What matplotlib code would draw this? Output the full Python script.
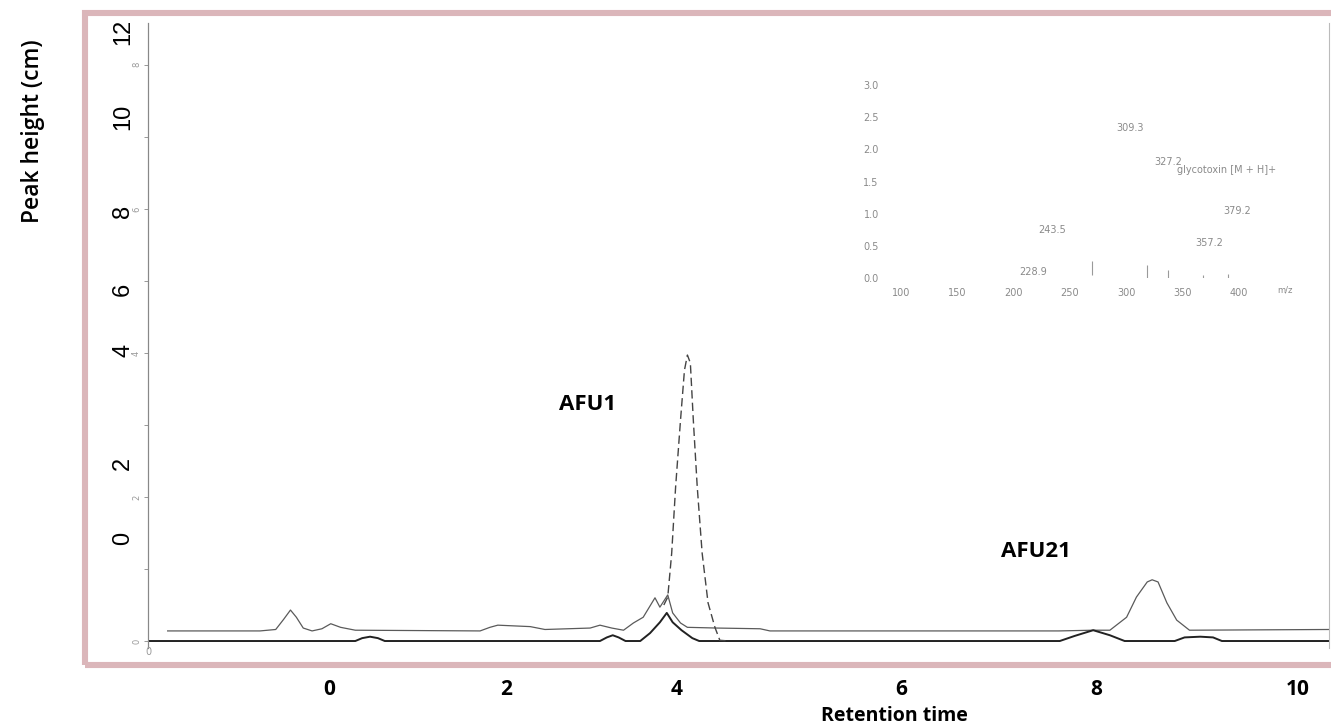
import matplotlib.pyplot as plt
from matplotlib.patches import Rectangle

# upper trace (thin grey), retention time vs peak height
upper_t = [-1.47, -0.53, -0.37, -0.29, -0.22, -0.16, -0.09, 0.0, 0.10, 0.19, 0.29, 0.44,
           1.71, 1.81, 1.89, 2.22, 2.37, 2.83, 2.93, 3.05, 3.17, 3.27, 3.37, 3.49, 3.54,
           3.62, 3.67, 3.75, 3.82, 4.12, 4.56, 4.66, 7.60, 7.95, 8.12, 8.29, 8.39, 8.50,
           8.55, 8.61, 8.70, 8.80, 8.93, 10.35]
upper_h = [0.14, 0.14, 0.16, 0.30, 0.43, 0.33, 0.18, 0.14, 0.17, 0.24, 0.19, 0.15,
           0.14, 0.19, 0.22, 0.20, 0.16, 0.18, 0.22, 0.18, 0.15, 0.25, 0.33, 0.60, 0.47,
           0.64, 0.39, 0.25, 0.19, 0.18, 0.17, 0.14, 0.14, 0.15, 0.15, 0.33, 0.61, 0.82,
           0.85, 0.82, 0.53, 0.29, 0.15, 0.16]

# lower trace (dark baseline)
lower_t = [-1.67, 0.44, 0.51, 0.59, 0.67, 0.74, 2.93, 3.00, 3.06, 3.12, 3.19, 3.34,
           3.44, 3.54, 3.61, 3.67, 3.76, 3.87, 3.94, 7.61, 7.76, 7.95, 8.12, 8.27,
           8.78, 8.88, 9.04, 9.17, 9.26, 10.35]
lower_h = [0.0, 0.0, 0.04, 0.06, 0.04, 0.0, 0.0, 0.05, 0.08, 0.05, 0.0, 0.0,
           0.11, 0.26, 0.39, 0.26, 0.15, 0.04, 0.0, 0.0, 0.07, 0.15, 0.08, 0.0,
           0.0, 0.05, 0.06, 0.05, 0.0, 0.0]

# dashed AFU1 trace
dash_t = [3.58, 3.62, 3.66, 3.70, 3.75, 3.79, 3.82, 3.85, 3.88, 3.92, 3.97, 4.03, 4.10, 4.15, 4.25]
dash_h = [0.50, 0.61, 1.22, 2.14, 3.07, 3.76, 3.97, 3.86, 3.07, 2.14, 1.22, 0.53, 0.19, 0.01, 0.0]

# outer (overlaid) tick labels
xtick_pos = [0.17, 1.97, 3.71, 6.0, 7.98, 10.03]
xtick_labels = ['0', '2', '4', '6', '8', '10']
ytick_pos = [8.46, 7.28, 5.96, 4.88, 4.04, 2.47, 1.42]
ytick_labels = ['12', '10', '8', '6', '4', '2', '0']

# inner chromatogram scale
inner_ticks = [0, 1, 2, 3, 4, 5, 6, 7, 8]
inner_labels = ['0', '', '2', '', '4', '', '6', '', '8']

# mass spectrum inset
ms_xticks = [100, 150, 200, 250, 300, 350, 400]
ms_yticks = [0.0, 0.5, 1.0, 1.5, 2.0, 2.5, 3.0]
ms_peak_mz = [269.5, 318, 337, 368, 390]
ms_peak_lo = [0.05, 0.0, 0.0, 0.0, 0.0]
ms_peak_hi = [0.27, 0.2, 0.12, 0.04, 0.06]
ms_notes = ['309.3', '327.2', 'glycotoxin [M + H]+', '379.2', '357.2', '243.5', '228.9']
ms_note_x = [303, 337, 345, 398, 374, 234, 217]
ms_note_y = [2.33, 1.80, 1.68, 1.04, 0.54, 0.75, 0.09]

W, H = 1331, 725
fig = plt.figure(figsize=(W / 100, H / 100), dpi=100)

# pink frame
fig.patches.append(Rectangle((85 / W, 1 - 665 / H), (1345 - 85) / W, (665 - 13) / H,
                             transform=fig.transFigure, fill=False,
                             edgecolor='#dbb6ba', linewidth=4.4))

ax = fig.add_axes([148 / W, 1 - 648 / H, (1329 - 148) / W, (648 - 23) / H])
ax.set_facecolor('none')
ax.plot(upper_t, upper_h, color='#5a5a5a', lw=0.9)
ax.plot(lower_t, lower_h, color='#222222', lw=1.4)
ax.plot(dash_t, dash_h, color='#444444', lw=1.0, dashes=(6, 3))
ax.set_xlim(-1.67, 10.35)
ax.set_ylim(-0.097, 8.58)

for s in ['top', 'bottom']:
    ax.spines[s].set_visible(False)
ax.spines['left'].set_color('#888888')
ax.spines['left'].set_linewidth(0.8)
ax.spines['right'].set_color('#bbbbbb')
ax.spines['right'].set_linewidth(0.8)

ax.set_xticks(xtick_pos)
ax.set_xticklabels(xtick_labels, fontfamily='Open Sans', fontweight='bold', fontsize=15)
ax.tick_params(axis='x', length=0, pad=22)
ax.set_yticks(ytick_pos)
ax.set_yticklabels(ytick_labels, fontfamily='Liberation Sans', fontsize=17,
                   rotation=90, va='center')
ax.tick_params(axis='y', length=0, pad=10)

sec = ax.secondary_yaxis('left')
sec.set_yticks(inner_ticks)
sec.set_yticklabels(inner_labels, fontsize=6, color='#999999', rotation=90, va='center')
sec.tick_params(length=3, width=0.6, color='#888888', pad=2)
sec.spines['left'].set_color('#888888')
sec.spines['left'].set_linewidth(0.8)
ax.annotate('0', xy=(-1.67, 0), xytext=(0, -4), textcoords='offset points',
            ha='center', va='top', fontsize=7, color='#999999')

ax.text(2.80, 3.29, 'AFU1', fontfamily='Open Sans', fontweight='bold', fontsize=16,
        ha='center', va='center')
ax.text(7.37, 1.24, 'AFU21', fontfamily='Open Sans', fontweight='bold', fontsize=16,
        ha='center', va='center')

fig.text(33 / W, 1 - 131 / H, 'Peak height (cm)', rotation=90, ha='center', va='center',
         fontfamily='Open Sans', fontweight='semibold', fontsize=16.5)
fig.text(894 / W, 1 - 716 / H, 'Retention time', ha='center', va='center',
         fontfamily='Open Sans', fontweight='bold', fontsize=14)

# inset mass spectrum
ins = fig.add_axes([901 / W, 1 - 278 / H, (1239 - 901) / W, (278 - 85) / H])
ins.set_facecolor('none')
ins.set_xlim(100, 400)
ins.set_ylim(0, 3.0)
for s in ins.spines.values():
    s.set_visible(False)
ins.set_xticks(ms_xticks)
ins.set_xticklabels([str(v) for v in ms_xticks], fontsize=7, color='#8a8a8a')
ins.set_yticks(ms_yticks)
ins.set_yticklabels(['%.1f' % v for v in ms_yticks], fontsize=7, color='#8a8a8a')
ins.tick_params(length=0)
ins.tick_params(axis='x', pad=7)
ins.tick_params(axis='y', pad=16)
ins.vlines(ms_peak_mz, ms_peak_lo, ms_peak_hi, color='#9a9a9a', lw=0.8)
for txt, x, y in zip(ms_notes, ms_note_x, ms_note_y):
    ins.text(x, y, txt, fontsize=7, color='#8a8a8a',
             ha='left' if txt.startswith('gly') else 'center', va='center')
ins.text(441, -0.19, 'm/z', fontsize=6, color='#8a8a8a', ha='center', va='center',
         clip_on=False)

fig.savefig('out.png', dpi=100)
